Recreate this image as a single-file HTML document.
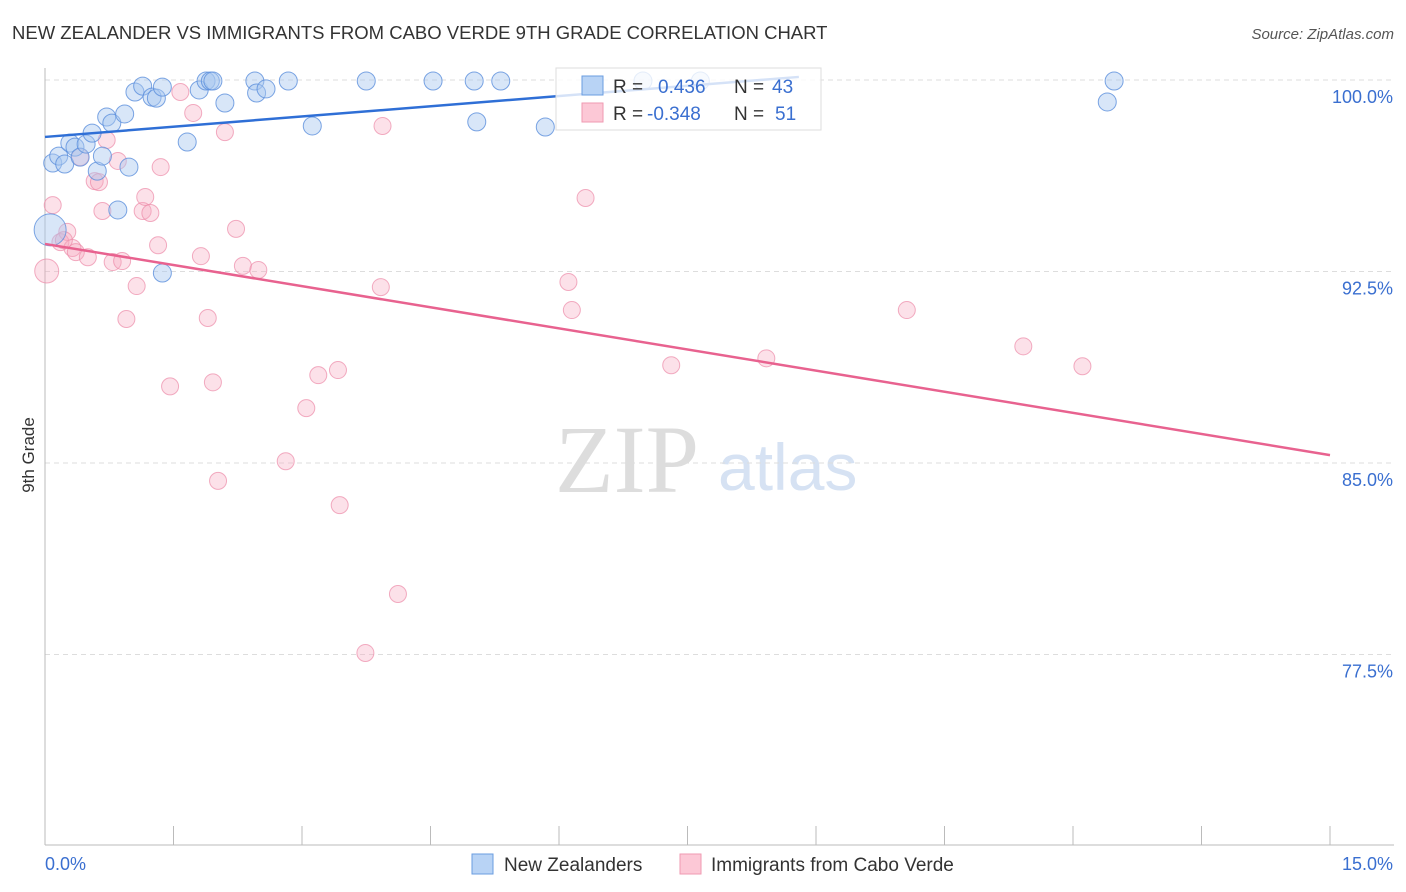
<!DOCTYPE html>
<html><head><meta charset="utf-8"><style>
body{margin:0;background:#fff;font-family:"Liberation Sans",sans-serif;}
#wrap{position:relative;width:1406px;height:892px;overflow:hidden}
</style></head><body>
<div id="wrap">
<svg id="svg" width="1406" height="892" xmlns="http://www.w3.org/2000/svg">
<text x="12" y="39" font-size="18.5" fill="#333">NEW ZEALANDER VS IMMIGRANTS FROM CABO VERDE 9TH GRADE CORRELATION CHART</text>
<text x="1394" y="39" font-size="15" fill="#555" font-style="italic" text-anchor="end">Source: ZipAtlas.com</text>
<text x="34" y="455" font-size="17" fill="#333" transform="rotate(-90 34 455)" text-anchor="middle">9th Grade</text>
<text x="555" y="492" font-size="96" fill="#ddd" font-family="Liberation Serif,serif">ZIP</text>
<text x="718" y="490" font-size="66" fill="#d6e2f3">atlas</text>
<g id="grid"></g><g id="pts"></g><g id="lines"></g>
<g>
<rect x="556" y="68" width="265" height="62" fill="#fff" fill-opacity="0.8" stroke="#ddd"/>
<rect x="582" y="76" width="21" height="19" fill="#b8d3f5" stroke="#6a9de0"/>
<rect x="582" y="103" width="21" height="19" fill="#fcc8d6" stroke="#ef9ab2"/>
<text x="613" y="93" font-size="19" fill="#333">R = </text><text x="658" y="93" font-size="19" fill="#3a6fd0">0.436</text>
<text x="734" y="93" font-size="19" fill="#333">N = </text><text x="772" y="93" font-size="19" fill="#3a6fd0">43</text>
<text x="613" y="120" font-size="19" fill="#333">R = </text><text x="647" y="120" font-size="19" fill="#3a6fd0">-0.348</text>
<text x="734" y="120" font-size="19" fill="#333">N = </text><text x="775" y="120" font-size="19" fill="#3a6fd0">51</text>
</g>
<g>
<rect x="472" y="854" width="21" height="20" fill="#b8d3f5" stroke="#6a9de0"/>
<text x="504" y="871" font-size="19" fill="#333">New Zealanders</text>
<rect x="680" y="854" width="21" height="20" fill="#fcc8d6" stroke="#ef9ab2"/>
<text x="711" y="871" font-size="19" fill="#333">Immigrants from Cabo Verde</text>
</g>
</svg>
</div>
<script>
const xTickVals=[0,1.5,3,4.5,6,7.5,9,10.5,12,13.5,15];
const yTickVals=[100,92.5,85,77.5];
const yTickLabels=["100.0%","92.5%","85.0%","77.5%"];
const blueX=[0.09,0.16,0.23,0.29,0.35,0.41,0.48,0.55,0.61,0.67,0.72,0.78,0.85,0.93,0.98,1.05,1.14,1.25,1.30,1.37,1.37,1.66,1.80,1.88,1.93,1.96,2.10,2.45,2.47,2.58,2.84,3.12,3.75,4.53,5.01,5.04,5.32,5.84,6.98,12.40,12.48,0.06,7.65];
const blueY=[96.75,97.02,96.71,97.53,97.37,96.98,97.49,97.92,96.43,97.02,98.55,98.31,94.91,98.67,96.59,99.53,99.76,99.33,99.29,99.72,92.44,97.57,99.61,99.96,99.96,99.96,99.10,99.96,99.49,99.65,99.96,98.20,99.96,99.96,99.96,98.36,99.96,98.16,99.96,99.14,99.96,94.13,99.96];
const blueR=[9,9,9,9,9,9,9,9,9,9,9,9,9,9,9,9,9,9,9,9,9,9,9,9,9,9,9,9,9,9,9,9,9,9,9,9,9,9,9,9,9,16,9];
const pinkX=[0.02,0.09,0.18,0.26,0.32,0.36,0.41,0.50,0.58,0.63,0.67,0.72,0.79,0.85,0.90,0.95,1.07,1.14,1.17,1.23,1.32,1.35,1.46,1.58,1.73,1.82,1.90,1.96,2.02,2.10,2.23,2.31,2.49,2.81,3.05,3.19,3.42,3.44,3.92,3.94,4.12,3.74,6.11,6.15,6.31,7.31,8.42,10.06,11.42,12.11,0.22];
const pinkY=[92.52,95.10,93.65,94.05,93.42,93.26,96.98,93.06,96.04,96.00,94.87,97.65,92.87,96.83,92.91,90.64,91.93,94.87,95.42,94.79,93.53,96.59,88.00,99.53,98.71,93.10,90.68,88.16,84.30,97.96,94.17,92.72,92.56,85.07,87.15,88.44,88.64,83.35,91.89,98.20,79.87,77.56,92.09,90.99,95.38,88.83,89.10,90.99,89.57,88.79,93.73];
const blueLine=[0,97.77,8.8,100.12];
const pinkLine=[0,93.58,15,85.31];
const L=45,R=1330,T=80,B=845;
const xs=v=>L+v/15*(R-L);
const ys=v=>T+(100-v)/7.5*191.5;
const NS="http://www.w3.org/2000/svg";
function mk(t,a,p){const e=document.createElementNS(NS,t);for(const k in a)e.setAttribute(k,a[k]);p.appendChild(e);return e;}
const grid=document.getElementById('grid'),pts=document.getElementById('pts'),lines=document.getElementById('lines');
yTickVals.forEach((v,i)=>{
 const g=mk('line',{x1:L,x2:1394,y1:ys(v),y2:ys(v),stroke:'#ddd','stroke-dasharray':'5,4'},grid);
 
 
 const t=mk('text',{x:1393,y:ys(v)+23,'font-size':18,fill:'#3a6fd0','text-anchor':'end'},grid);t.textContent=yTickLabels[i];
 
 
});
const ax=mk('line',{x1:L,x2:L,y1:68,y2:B,stroke:'#bbb'},grid);


const bx=mk('line',{x1:L,x2:1394,y1:B,y2:B,stroke:'#bbb'},grid);


xTickVals.forEach(v=>{const t=mk('line',{x1:xs(v),x2:xs(v),y1:826,y2:B,stroke:'#bbb'},grid);
 
 });
const x0=mk('text',{x:45,y:870,'font-size':18,fill:'#3a6fd0'},grid);x0.textContent='0.0%';


const x1=mk('text',{x:1393,y:870,'font-size':18,fill:'#3a6fd0','text-anchor':'end'},grid);x1.textContent='15.0%';


pinkX.forEach((v,i)=>{const c=mk('circle',{cx:xs(v),cy:ys(pinkY[i]),r:i==0?12:8.5,fill:'#f7a8c0','fill-opacity':0.35,stroke:'#ec8aa8','stroke-opacity':0.7},pts);
 
 });
blueX.forEach((v,i)=>{const c=mk('circle',{cx:xs(v),cy:ys(blueY[i]),r:blueR[i],fill:'#a8c8f0','fill-opacity':0.45,stroke:'#5b8fdc','stroke-opacity':0.8},pts);
 
 });
const bl=mk('line',{x1:xs(blueLine[0]),y1:ys(blueLine[1]),x2:xs(blueLine[2]),y2:ys(blueLine[3]),stroke:'#2f6fd6','stroke-width':2.5},lines);


const pl=mk('line',{x1:xs(pinkLine[0]),y1:ys(pinkLine[1]),x2:xs(pinkLine[2]),y2:ys(pinkLine[3]),stroke:'#e8628f','stroke-width':2.5},lines);


</script>
</body></html>
